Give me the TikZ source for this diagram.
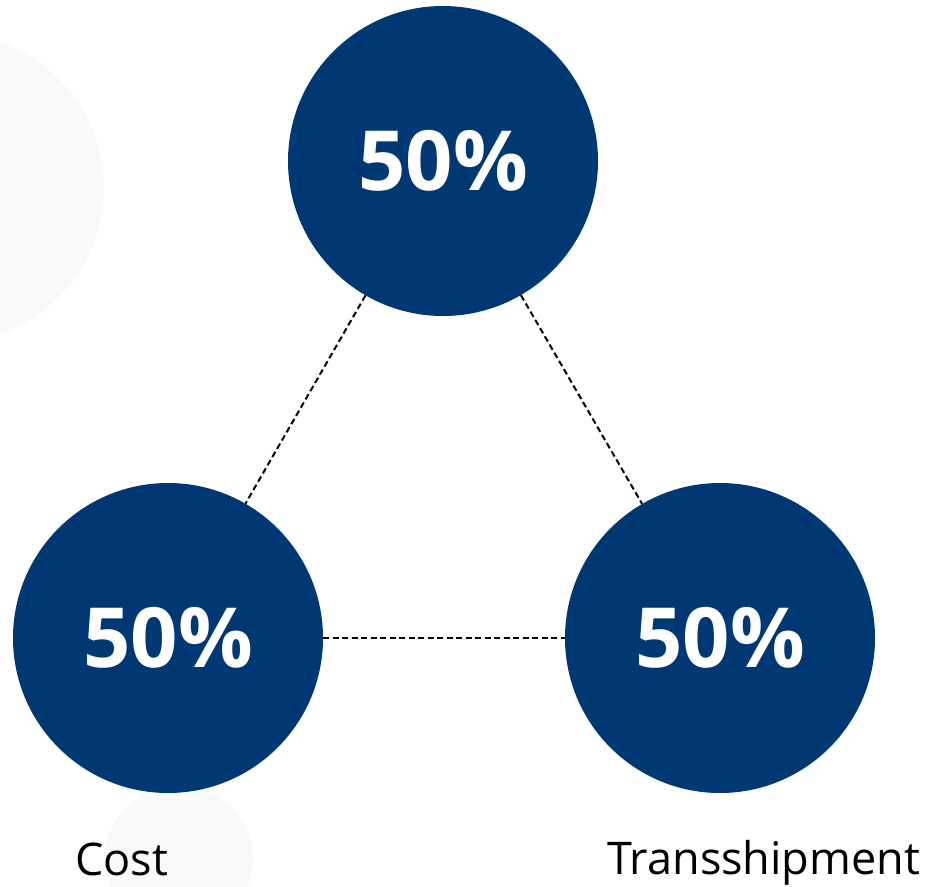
\documentclass[tikz,border=0pt]{standalone}
\usepackage{fontspec}
\setmainfont{Open Sans}
\usepackage{tikz}
\definecolor{navy}{HTML}{003873}
\definecolor{ghost}{HTML}{F8F9F9}

\begin{document}
\begin{tikzpicture}[x=1pt,y=-1pt,
    share/.style={circle,fill=navy,minimum size=310pt,inner sep=0pt,text=white,
        font=\bfseries\fontsize{83}{83}\selectfont},
    link/.style={dash pattern=on 6pt off 3.5pt,line width=2pt},
    tag/.style={anchor=base west,inner sep=0pt,font=\fontsize{45}{45}\selectfont}]
    \useasboundingbox (0,0) rectangle (925,886);

    % faint background discs
    \fill[ghost] (-51,188) circle (155pt);
    \fill[ghost] (179,859) circle (74pt);

    \node[share] (top) at (443,161) {50\%};
    \node[share] (cost) at (168,638) {50\%};
    \node[share] (trans) at (720,638) {50\%};

    \draw[link] (top) -- (cost);
    \draw[link] (top) -- (trans);
    \draw[link] (cost) -- (trans);

%labels
    \node[tag] (costlabel) at (75,875) {Cost};
    \node[tag] (translabel) at (607,874) {Transshipment};

\end{tikzpicture}
\end{document}
